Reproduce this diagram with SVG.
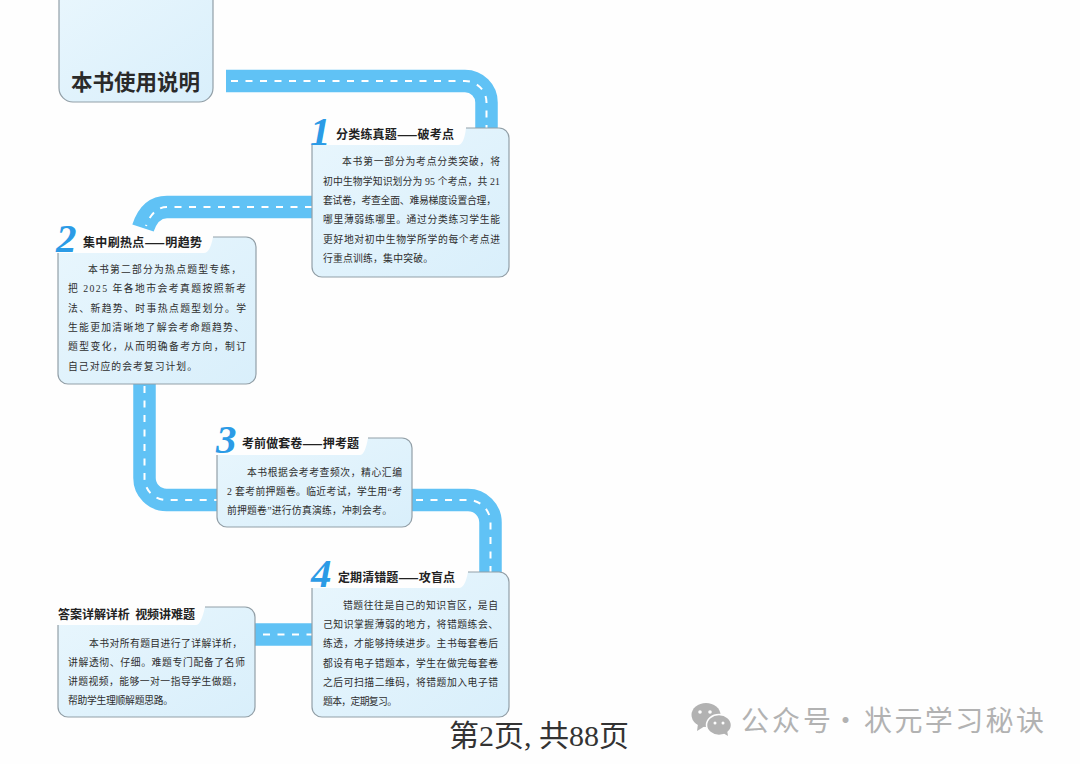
<svg xmlns="http://www.w3.org/2000/svg" width="1080" height="764" viewBox="0 0 1080 764">
<style>
.road{fill:none;stroke:#60c2f5;stroke-width:22.5}
.dash{fill:none;stroke:#fff;stroke-width:2;stroke-dasharray:7 7.5}
.fill{fill:url(#cardGrad)}
.edge{fill:none;stroke:#929fa7;stroke-width:1.2}
.head{font-family:"Noto Sans CJK SC","Liberation Sans",sans-serif;font-weight:700;font-size:12px;fill:#222}
.body{font-family:"Liberation Serif","Noto Sans CJK SC",serif;font-size:9.8px;fill:#2e2e2e}
.num{font-family:"Liberation Serif",serif;font-style:italic;font-weight:700;font-size:41px;fill:#2b9be6}
.mark{font-family:"Noto Sans CJK SC",sans-serif;font-size:28px}
</style>
<defs>
<linearGradient id="cardGrad" x1="0" y1="0" x2="1" y2="1">
<stop offset="0" stop-color="#e8f6fd"/>
<stop offset="1" stop-color="#d9effb"/>
</linearGradient>
</defs>
<rect width="1080" height="764" fill="#fefefe"/>
<g id="connectors">
<path class="road" d="M226 81H465A21.500 21.500 0 0 1 486.500 102.500V128"/>
<path class="dash" d="M231 81H465A21.500 21.500 0 0 1 486.500 102.500V128"/>
<path class="road" d="M312 207H167Q150 207 143 228"/>
<path class="dash" d="M312 207H167Q153 207 146 226"/>
<path class="road" d="M144.500 384V478A22 22 0 0 0 166.500 500H217"/>
<path class="dash" d="M144.500 386V478A22 22 0 0 0 166.500 500H217"/>
<path class="road" d="M412 500H468A22.500 22.500 0 0 1 490.500 522.500V572"/>
<path class="dash" d="M416 500H468A22.500 22.500 0 0 1 490.500 522.500V572"/>
<path class="road" d="M255 634.500H312"/>
<path class="dash" d="M263 634.500H312"/>
</g>
<g id="node-title">
<path class="fill" d="M59 -2H213V88A14 14 0 0 1 199 102H73A14 14 0 0 1 59 88Z"/>
<path class="edge" d="M213 -2V88A14 14 0 0 1 199 102H73A14 14 0 0 1 59 88V-2"/>
<text x="71" y="90" font-family="Noto Sans CJK SC,sans-serif" font-weight="700" font-size="21.500" fill="#2a2a2a" textLength="129">本书使用说明</text>
</g>
<g id="node-1">
<path class="fill" d="M312 145H458Q464 145 466 128H499A10 10 0 0 1 509 138V267A10 10 0 0 1 499 277H322A10 10 0 0 1 312 267Z"/>
<path class="edge" d="M466 128H499A10 10 0 0 1 509 138V267A10 10 0 0 1 499 277H322A10 10 0 0 1 312 267V145"/>
<text class="num" x="310" y="145">1</text>
<text class="head" x="336" y="139" textLength="118">分类练真题——破考点</text>
<text class="body" x="342" y="165" textLength="158">本书第一部分为考点分类突破，将</text>
<text class="body" x="323" y="185" textLength="177">初中生物学知识划分为 95 个考点，共 21</text>
<text class="body" x="323" y="204" textLength="173">套试卷，考查全面、难易梯度设置合理，</text>
<text class="body" x="323" y="223" textLength="177">哪里薄弱练哪里。通过分类练习学生能</text>
<text class="body" x="323" y="243" textLength="177">更好地对初中生物学所学的每个考点进</text>
<text class="body" x="323" y="262" textLength="110">行重点训练，集中突破。</text>
</g>
<g id="node-2">
<path class="fill" d="M58 253H204Q210 253 213 237H246A10 10 0 0 1 256 247V374A10 10 0 0 1 246 384H68A10 10 0 0 1 58 374Z"/>
<path class="edge" d="M213 237H246A10 10 0 0 1 256 247V374A10 10 0 0 1 246 384H68A10 10 0 0 1 58 374V253"/>
<text class="num" x="56" y="252">2</text>
<text class="head" x="83" y="247" textLength="119">集中刷热点——明趋势</text>
<text class="body" x="88" y="273" textLength="153">本书第二部分为热点题型专练，</text>
<text class="body" x="68" y="292" textLength="178">把 2025 年各地市会考真题按照新考</text>
<text class="body" x="68" y="312" textLength="178">法、新趋势、时事热点题型划分。学</text>
<text class="body" x="68" y="331" textLength="176">生能更加清晰地了解会考命题趋势、</text>
<text class="body" x="68" y="350" textLength="178">题型变化，从而明确备考方向，制订</text>
<text class="body" x="68" y="370" textLength="129">自己对应的会考复习计划。</text>
</g>
<g id="node-3">
<path class="fill" d="M217 455H360Q365 455 368 438H402A10 10 0 0 1 412 448V517A10 10 0 0 1 402 527H227A10 10 0 0 1 217 517Z"/>
<path class="edge" d="M368 438H402A10 10 0 0 1 412 448V517A10 10 0 0 1 402 527H227A10 10 0 0 1 217 517V455"/>
<text class="num" x="216" y="453">3</text>
<text class="head" x="242" y="448" textLength="117">考前做套卷——押考题</text>
<text class="body" x="247" y="476" textLength="155">本书根据会考考查频次，精心汇编</text>
<text class="body" x="227" y="495" textLength="175">2 套考前押题卷。临近考试，学生用“考</text>
<text class="body" x="227" y="514" textLength="165">前押题卷”进行仿真演练，冲刺会考。</text>
</g>
<g id="node-4">
<path class="fill" d="M312 588H459Q465 588 468 572H499A10 10 0 0 1 509 582V707A10 10 0 0 1 499 717H322A10 10 0 0 1 312 707Z"/>
<path class="edge" d="M468 572H499A10 10 0 0 1 509 582V707A10 10 0 0 1 499 717H322A10 10 0 0 1 312 707V588"/>
<text class="num" x="311" y="587">4</text>
<text class="head" x="338" y="582" textLength="117">定期清错题——攻盲点</text>
<text class="body" x="343" y="609" textLength="155">错题往往是自己的知识盲区，是自</text>
<text class="body" x="323" y="628" textLength="175">己知识掌握薄弱的地方，将错题练会、</text>
<text class="body" x="323" y="647" textLength="175">练透，才能够持续进步。主书每套卷后</text>
<text class="body" x="323" y="667" textLength="175">都设有电子错题本，学生在做完每套卷</text>
<text class="body" x="323" y="686" textLength="175">之后可扫描二维码，将错题加入电子错</text>
<text class="body" x="323" y="705" textLength="74">题本，定期复习。</text>
</g>
<g id="node-5">
<path class="fill" d="M58 625H196Q201 625 205 607H245A10 10 0 0 1 255 617V707A10 10 0 0 1 245 717H68A10 10 0 0 1 58 707Z"/>
<path class="edge" d="M205 607H245A10 10 0 0 1 255 617V707A10 10 0 0 1 245 717H68A10 10 0 0 1 58 707V625"/>
<text class="head" x="58" y="619" textLength="137" xml:space="preserve">答案详解详析  视频讲难题</text>
<text class="body" x="89" y="647" textLength="153">本书对所有题目进行了详解详析，</text>
<text class="body" x="68" y="666" textLength="177">讲解透彻、仔细。难题专门配备了名师</text>
<text class="body" x="68" y="685" textLength="174">讲题视频，能够一对一指导学生做题，</text>
<text class="body" x="68" y="704" textLength="105">帮助学生理顺解题思路。</text>
</g>
<text x="449" y="746" font-family="Liberation Serif,Noto Sans CJK SC,serif" font-size="30" fill="#333" textLength="180">第2页, 共88页</text>
<g fill="#b2b2b2">
<ellipse cx="706" cy="715" rx="14.500" ry="12"/>
<path d="M698 724l-1 7 8-5z"/>
<ellipse cx="719" cy="725" rx="12.500" ry="10.500" stroke="#fefefe" stroke-width="1.500"/>
<path d="M723 733l5 3-1-6z"/>
<circle cx="700" cy="712" r="1.800" fill="#fefefe"/>
<circle cx="710" cy="712" r="1.800" fill="#fefefe"/>
<circle cx="715" cy="723" r="1.500" fill="#fefefe"/>
<circle cx="723" cy="723" r="1.500" fill="#fefefe"/>
<text class="mark" y="731"><tspan x="741" textLength="90">公众号</tspan><tspan x="831.500">·</tspan><tspan x="864" textLength="180">状元学习秘诀</tspan></text>
</g>
</svg>
